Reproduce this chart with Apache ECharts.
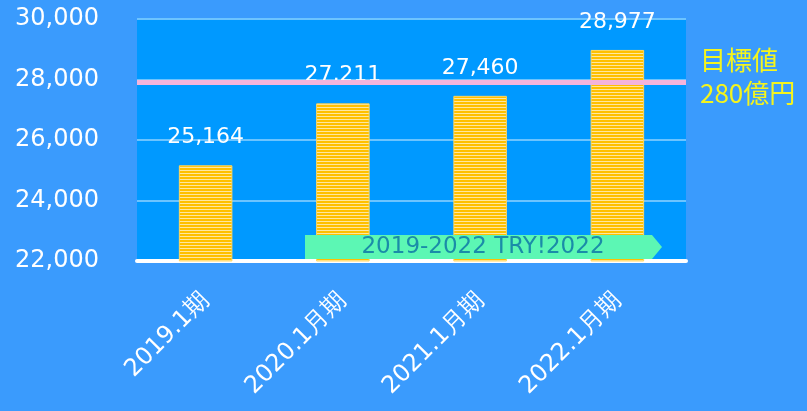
<!DOCTYPE html>
<html>
<head>
<meta charset="UTF-8">
<title></title>
<style>
*{margin:0;padding:0;}
body{background:#3a9bfd;}
#chart{width:807px;height:411px;}
</style>
</head>
<body>
<div id="chart"></div>
<script src="https://cdn.jsdelivr.net/npm/echarts@6/dist/echarts.min.js"></script>
<script>
var categories = ["2019.1期", "2020.1月期", "2021.1月期", "2022.1月期"];
var sales = [25164, 27211, 27460, 28977];
var targetValue = 27920;
var targetLabel = ["目標値", "280億円"];
var bannerText = "2019-2022 TRY!2022";

// yellow striped fill
function stripes(){
	var c = document.createElement("canvas");
	c.width = 4; c.height = 3;
	var ctx = c.getContext("2d");
	ctx.fillStyle = "#ffc000";
	ctx.fillRect(0, 0, 4, 3);
	ctx.fillStyle = "#ffe7a0";
	ctx.fillRect(0, 2, 4, 1);
	return c;
}

var chart = echarts.init(document.getElementById("chart"));
var option = {
	backgroundColor: "#3a9bfd",
	animation: false,
	grid: {left: 137, right: 121, top: 19, bottom: 150, show: true, backgroundColor: "#0099ff", borderWidth: 0},
	xAxis: {
		type: "category",
		data: categories,
		axisTick: {show: false},
		axisLine: {lineStyle: {color: "#ffffff", width: 4}},
		axisLabel: {color: "#ffffff", fontSize: 24, rotate: 45, margin: 36, fontFamily: "DejaVu Sans"}
	},
	yAxis: {
		type: "value",
		min: 22000, max: 30000, interval: 2000,
		axisLine: {show: false},
		axisTick: {show: false},
		splitLine: {lineStyle: {color: "#6cc4ff", width: 2}},
		axisLabel: {color: "#ffffff", fontSize: 24, margin: 38, fontFamily: "DejaVu Sans",
			formatter: function(v){ return v.toLocaleString("en-US"); }}
	},
	series: [{
		type: "bar",
		data: sales,
		barWidth: "39%",
		itemStyle: {color: {image: stripes(), repeat: "repeat"}, borderColor: "#ffd75e", borderWidth: 1},
		label: {show: true, position: "top", distance: 17, color: "#ffffff", fontSize: 22, fontFamily: "DejaVu Sans",
			formatter: function(p){ return p.value.toLocaleString("en-US"); }},
		markLine: {
			symbol: "none",
			silent: true,
			lineStyle: {color: "#f4b4dc", width: 5, type: "solid"},
			label: {position: "end", formatter: targetLabel.join("\n"), color: "#f4f41e", fontSize: 26, lineHeight: 33,
				distance: 14, offset: [0, -5], fontFamily: "Noto Sans CJK JP"},
			data: [{yAxis: targetValue}]
		}
	}],
	graphic: [{
		type: "polygon",
		shape: {points: [[305, 235], [652, 235], [662, 247], [652, 259], [305, 259]]},
		style: {fill: "#5cf7b4"},
		z: 10
	}, {
		type: "text",
		x: 483, y: 247,
		style: {text: bannerText, fill: "#1a8ca8", fontSize: 23, fontFamily: "DejaVu Sans", align: "center", verticalAlign: "middle"},
		z: 11
	}]
};
chart.setOption(option);
</script>
</body>
</html>
